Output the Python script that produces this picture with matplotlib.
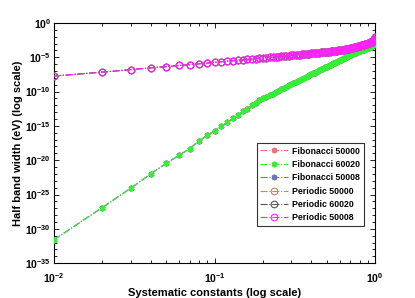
import matplotlib
matplotlib.use('Agg')
import matplotlib.pyplot as plt
import numpy as np

plt.rcParams['font.family'] = ['Liberation Sans', 'DejaVu Sans']
plt.rcParams['font.weight'] = 'bold'
plt.rcParams['mathtext.fontset'] = 'custom'
plt.rcParams['mathtext.rm'] = 'Liberation Sans:bold'
plt.rcParams['mathtext.bf'] = 'Liberation Sans:bold'
plt.rcParams['mathtext.it'] = 'Liberation Sans:bold:italic'

# Systematic constants 0.01 ... 1.00
x = [0.01, 0.02, 0.03, 0.04, 0.05, 0.06, 0.07, 0.08, 0.09, 0.10,
     0.11, 0.12, 0.13, 0.14, 0.15, 0.16, 0.17, 0.18, 0.19, 0.20,
     0.21, 0.22, 0.23, 0.24, 0.25, 0.26, 0.27, 0.28, 0.29, 0.30,
     0.31, 0.32, 0.33, 0.34, 0.35, 0.36, 0.37, 0.38, 0.39, 0.40,
     0.41, 0.42, 0.43, 0.44, 0.45, 0.46, 0.47, 0.48, 0.49, 0.50,
     0.51, 0.52, 0.53, 0.54, 0.55, 0.56, 0.57, 0.58, 0.59, 0.60,
     0.61, 0.62, 0.63, 0.64, 0.65, 0.66, 0.67, 0.68, 0.69, 0.70,
     0.71, 0.72, 0.73, 0.74, 0.75, 0.76, 0.77, 0.78, 0.79, 0.80,
     0.81, 0.82, 0.83, 0.84, 0.85, 0.86, 0.87, 0.88, 0.89, 0.90,
     0.91, 0.92, 0.93, 0.94, 0.95, 0.96, 0.97, 0.98, 0.99, 1.00]

# half band width, log10(eV)
fib_log10 = [-31.6, -26.9, -24.1, -22.0, -20.45, -19.3, -18.3, -17.2, -16.4, -15.7,
             -15.0, -14.5, -13.9, -13.4, -12.9, -12.5, -12.0, -11.7, -11.3, -11.0,
             -10.8, -10.55, -10.3, -10.1, -9.85, -9.66, -9.47, -9.29, -9.11, -8.94,
             -8.78, -8.61, -8.45, -8.31, -8.16, -8.02, -7.88, -7.74, -7.62, -7.49,
             -7.36, -7.24, -7.13, -7.01, -6.90, -6.78, -6.68, -6.57, -6.47, -6.36,
             -6.26, -6.17, -6.07, -5.98, -5.89, -5.79, -5.70, -5.62, -5.53, -5.45,
             -5.37, -5.28, -5.20, -5.12, -5.04, -4.96, -4.89, -4.81, -4.74, -4.67,
             -4.61, -4.55, -4.49, -4.43, -4.38, -4.32, -4.27, -4.21, -4.15, -4.10,
             -4.05, -4.00, -3.96, -3.91, -3.87, -3.82, -3.77, -3.73, -3.69, -3.64,
             -3.60, -3.55, -3.52, -3.47, -3.41, -3.35, -3.27, -3.15, -2.98, -2.65]

per_log10 = [-7.73, -7.17, -6.80, -6.55, -6.37, -6.20, -6.07, -5.95, -5.85, -5.73,
             -5.65, -5.57, -5.50, -5.44, -5.38, -5.32, -5.27, -5.22, -5.17, -5.13,
             -5.07, -5.03, -4.98, -4.94, -4.90, -4.86, -4.83, -4.80, -4.76, -4.73,
             -4.70, -4.67, -4.63, -4.61, -4.58, -4.55, -4.52, -4.50, -4.47, -4.45,
             -4.42, -4.39, -4.37, -4.34, -4.32, -4.30, -4.28, -4.26, -4.23, -4.21,
             -4.18, -4.17, -4.14, -4.12, -4.10, -4.07, -4.05, -4.02, -4.00, -3.97,
             -3.95, -3.93, -3.90, -3.88, -3.84, -3.82, -3.79, -3.76, -3.73, -3.70,
             -3.67, -3.64, -3.60, -3.57, -3.53, -3.50, -3.46, -3.43, -3.38, -3.34,
             -3.30, -3.27, -3.23, -3.20, -3.16, -3.12, -3.08, -3.04, -3.00, -2.96,
             -2.92, -2.88, -2.84, -2.80, -2.75, -2.70, -2.63, -2.53, -2.37, -2.10]

# the three lattice sizes give overlapping curves
fib_50000 = fib_log10
fib_60020 = fib_log10
fib_50008 = fib_log10
per_50000 = per_log10
per_60020 = per_log10
per_50008 = per_log10

series = [
    ('Fibonacci 50000', fib_50000, '#e8777a', 'fib', 2),
    ('Fibonacci 60020', fib_60020, '#33f033', 'fib', 4),
    ('Fibonacci 50008', fib_50008, '#7070d0', 'fib', 3),
    ('Periodic 50000', per_50000, '#c8875a', 'per', 5),
    ('Periodic 60020', per_60020, '#555555', 'per', 6),
    ('Periodic 50008', per_50008, '#ff22ff', 'per', 7),
]

fig = plt.figure(figsize=(4.15, 2.98), dpi=100)
ax = fig.add_axes([0.130, 0.117, 0.774, 0.806])

for label, vals, color, kind, z in series:
    y = 10.0 ** np.array(vals)
    if kind == 'fib':
        ax.plot(x, y, linestyle='-.', linewidth=0.8, color=color,
                marker=(6, 2, 0), markersize=4, markeredgewidth=1.3,
                label=label, zorder=z)
    else:
        ax.plot(x, y, linestyle='-.', linewidth=0.8, color=color,
                marker='o', markersize=4.8, markerfacecolor='none',
                markeredgewidth=0.8, label=label, zorder=z)

ax.set_xscale('log')
ax.set_yscale('log')
ax.set_xlim(0.01, 1)
ax.set_ylim(1e-35, 1)

yt = [10.0 ** -k for k in range(0, 36, 5)]
ax.set_yticks(yt)
ax.set_yticklabels([r'$\mathbf{10^{%d}}$' % -k if k else r'$\mathbf{10^{0}}$'
                    for k in range(0, 36, 5)])
ax.set_yticks([10.0 ** -k for k in range(36) if k % 5], minor=True)
ax.set_xticks([0.01, 0.1, 1])
ax.set_xticklabels([r'$\mathbf{10^{-2}}$', r'$\mathbf{10^{-1}}$', r'$\mathbf{10^{0}}$'])
ax.xaxis.set_minor_formatter(matplotlib.ticker.NullFormatter())
ax.yaxis.set_minor_formatter(matplotlib.ticker.NullFormatter())

ax.tick_params(which='both', direction='in', top=True, right=True,
               labelsize=7.5, width=0.6)
ax.tick_params(which='major', length=3.5)
ax.tick_params(which='minor', length=2)
ax.tick_params(axis='x', pad=6)
ax.tick_params(axis='y', pad=2)
for s in ax.spines.values():
    s.set_linewidth(0.8)

ax.set_xlabel('Systematic constants (log scale)', fontsize=8, fontweight='bold',
              labelpad=2)
ax.set_ylabel('Half band width (eV) (log scale)', fontsize=8, fontweight='bold',
              labelpad=2)

leg = ax.legend(loc='upper right', bbox_to_anchor=(0.965, 0.50),
                fontsize=6.3, frameon=True, fancybox=False, handlelength=3.2,
                labelspacing=0.5, borderpad=0.4, handletextpad=0.5,
                borderaxespad=0)
leg.get_frame().set_edgecolor('black')
leg.get_frame().set_linewidth(0.8)
for t in leg.get_texts():
    t.set_fontweight('bold')

fig.savefig('out.png', dpi=100)
